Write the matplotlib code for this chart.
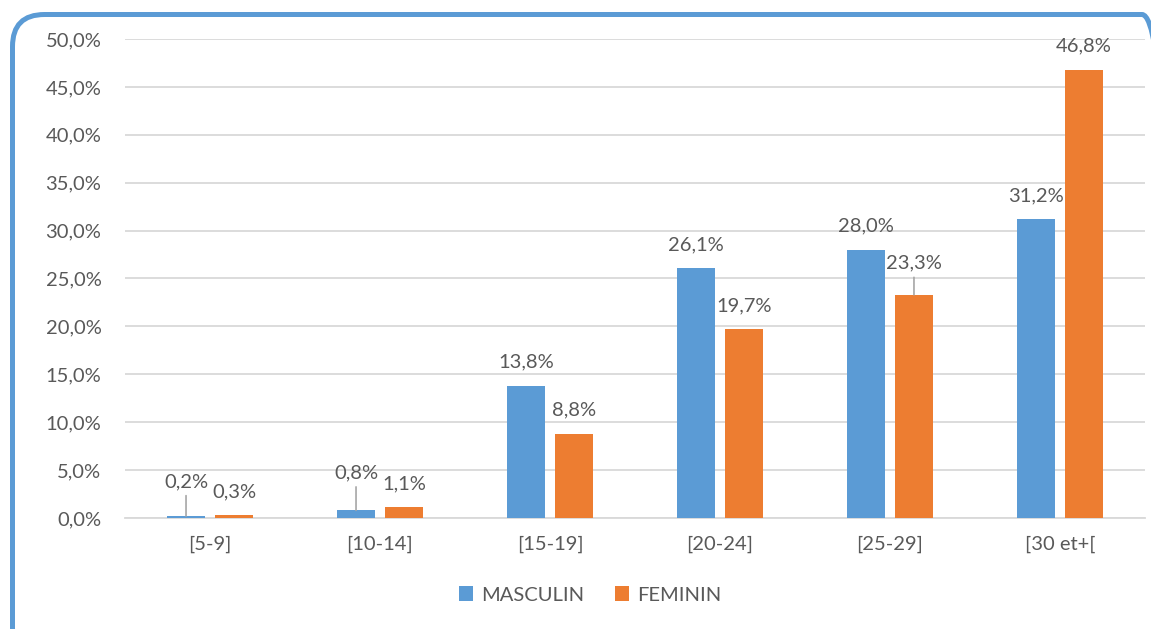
import matplotlib.pyplot as plt
from matplotlib.patches import FancyBboxPatch
from matplotlib.transforms import IdentityTransform
from matplotlib.ticker import FuncFormatter
import numpy as np

plt.rcParams['font.family'] = ['Lato', 'DejaVu Sans']

categories = ['[5-9]', '[10-14]', '[15-19]', '[20-24]', '[25-29]', '[30 et+[']
masculin = [0.2, 0.8, 13.8, 26.1, 28.0, 31.2]
feminin = [0.3, 1.1, 8.8, 19.7, 23.3, 46.8]

BLUE = '#5B9BD5'
ORANGE = '#ED7D31'
TEXT = '#595959'
GRID = '#D9D9D9'
FS = 14.5

W, H = 1151, 629
fig = plt.figure(figsize=(W / 100, H / 100), dpi=100)

# rounded frame in display pixels (origin bottom-left)
left, top, right, bottom = 12.5, 14.5, 1174, 660
fig.patches.append(FancyBboxPatch((left, H - bottom), right - left, bottom - top,
                                  boxstyle='round,pad=0,rounding_size=32',
                                  transform=IdentityTransform(), figure=fig,
                                  facecolor='none', edgecolor=BLUE, linewidth=3.6))

ax = fig.add_axes([125 / W, 1 - 518 / H, (1145 - 125) / W, (518 - 39) / H])
ax.patch.set_alpha(0)

x = np.arange(len(categories))
bw = 0.224
off = 0.141
bm = ax.bar(x - off, masculin, bw, color=BLUE, zorder=3)
bf = ax.bar(x + off, feminin, bw, color=ORANGE, zorder=3)

ax.set_xlim(-0.5, len(categories) - 0.5)
ax.set_ylim(0, 50)
ax.set_yticks(np.arange(0, 51, 5))
ax.yaxis.set_major_formatter(FuncFormatter(lambda v, p: f'{v:.1f}%'.replace('.', ',')))
ax.set_xticks(x)
ax.set_xticklabels(categories)
ax.grid(axis='y', color=GRID, linewidth=1.3, zorder=0)
for s in ['top', 'right', 'left']:
    ax.spines[s].set_visible(False)
ax.spines['bottom'].set_color(GRID)
ax.spines['bottom'].set_linewidth(1.3)
ax.tick_params(length=0, labelsize=FS, colors=TEXT)
ax.tick_params(axis='y', pad=17)
ax.tick_params(axis='x', pad=13)

# value labels; a few are lifted with a leader line
lift = {('m', 0): 11, ('m', 1): 14, ('f', 4): 8}
for key, vals, xs in [('m', masculin, x - off), ('f', feminin, x + off)]:
    for i, (xi, v) in enumerate(zip(xs, vals)):
        txt = f'{v:.1f}%'.replace('.', ',')
        if (key, i) in lift:
            ax.annotate(txt, (xi, v), xytext=(0, 15 + lift[(key, i)]), textcoords='offset pixels',
                        ha='center', va='bottom', fontsize=FS, color=TEXT,
                        arrowprops=dict(arrowstyle='-', color='#A6A6A6', lw=1.2,
                                        shrinkA=2, shrinkB=0))
        else:
            ax.annotate(txt, (xi, v), xytext=(0, 15), textcoords='offset pixels',
                        ha='center', va='bottom', fontsize=FS, color=TEXT)

fig.legend([bm, bf], ['MASCULIN', 'FEMININ'], loc='center', bbox_to_anchor=(590 / W, 1 - 595 / H),
           ncol=2, frameon=False, fontsize=FS, labelcolor=TEXT, handlelength=0.7,
           handleheight=0.7, handletextpad=0.4, columnspacing=1.5)

fig.savefig('out.png', dpi=100)
